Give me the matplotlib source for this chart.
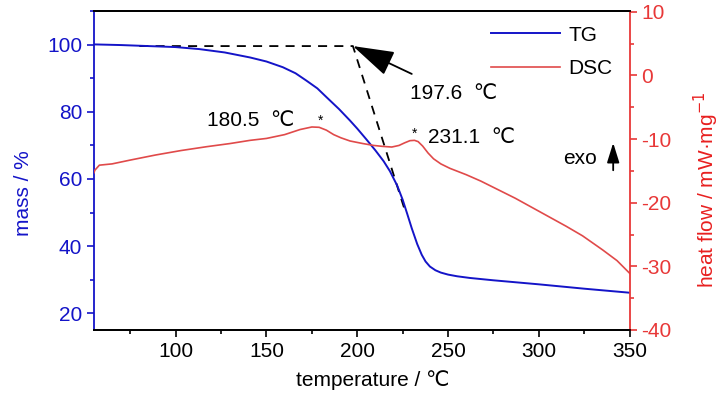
import numpy as np
import matplotlib
matplotlib.use('Agg')
import matplotlib.pyplot as plt
from matplotlib.ticker import MultipleLocator

plt.rcParams['font.family'] = ['Liberation Sans', 'DejaVu Sans']
plt.rcParams['font.size'] = 15
plt.rcParams['axes.unicode_minus'] = False

# TG curve (temperature / C, mass / %)
tg_t = [55, 70, 85, 100, 113, 127, 141, 150, 159, 166, 172, 178, 183, 190, 196, 200,
        205, 210, 214.5, 218, 222, 225, 227.5, 230, 233, 235.5, 237.6, 240, 243, 246,
        250, 255, 262, 275, 300, 325, 350]
tg_m = [100.1, 99.9, 99.6, 99.3, 98.7, 97.7, 96.2, 95.0, 93.3, 91.5, 89.3, 87.0, 84.4, 80.8,
        77.4, 75.0, 71.8, 68.5, 65.3, 62.3, 58.0, 53.8, 49.6, 45.3, 40.6, 37.4, 35.4, 33.9,
        32.8, 32.1, 31.5, 31.0, 30.5, 29.8, 28.6, 27.3, 26.1]

# DSC curve (temperature / C, heat flow / mW mg-1)
dsc_t = [55, 55.5, 58, 65, 75, 89, 103, 117, 130, 141, 150, 160, 168.5, 175, 179, 183,
         187, 191, 196, 203, 209, 214, 219, 223, 226, 229, 231.5, 233.5, 236, 239, 242,
         246, 251, 260, 268, 287, 301, 315, 324, 335, 343, 350]
dsc_h = [-15.3, -14.9, -14.1, -13.9, -13.3, -12.5, -11.8, -11.2, -10.7, -10.2, -9.9, -9.3,
         -8.5, -8.1, -8.15, -8.6, -9.3, -9.8, -10.3, -10.7, -11.0, -11.15, -11.25, -11.0,
         -10.6, -10.25, -10.2, -10.4, -11.1, -12.2, -13.1, -13.9, -14.6, -15.6, -16.6, -19.3,
         -21.5, -23.7, -25.2, -27.4, -29.1, -31.1]

# onset construction
onset_x = [80, 197.6, 226]
onset_y = [99.6, 99.6, 51]

blue = '#1414c8'
red = '#e04a4a'
red_ax = '#e83838'

fig = plt.figure(figsize=(7.28, 3.99), dpi=100)
ax = fig.add_axes([0.129, 0.173, 0.736, 0.799])
ax2 = ax.twinx()

ax.plot(onset_x, onset_y, 'k--', lw=1.3, dashes=(5, 4))
l1, = ax.plot(tg_t, tg_m, color=blue, lw=1.4)
l2, = ax2.plot(dsc_t, dsc_h, color=red, lw=1.2)

ax.set_xlim(55, 350)
ax.set_ylim(15, 110)
ax2.set_ylim(-40, 10.1)

ax.xaxis.set_major_locator(MultipleLocator(50))
ax.xaxis.set_minor_locator(MultipleLocator(25))
ax.yaxis.set_major_locator(MultipleLocator(20))
ax.yaxis.set_minor_locator(MultipleLocator(10))
ax2.yaxis.set_major_locator(MultipleLocator(10))
ax2.yaxis.set_minor_locator(MultipleLocator(5))

for a in (ax, ax2):
    for s in a.spines.values():
        s.set_linewidth(1.3)
ax.spines['left'].set_color(blue)
ax2.spines['left'].set_visible(False)
ax2.spines['right'].set_color(red_ax)
ax.spines['right'].set_visible(False)

ax.tick_params(axis='x', which='major', length=5, width=1.2, pad=4)
ax.tick_params(axis='x', which='minor', length=3, width=1.2)
ax.tick_params(axis='y', which='both', colors=blue, width=1.2)
ax.tick_params(axis='y', which='major', length=5)
ax.tick_params(axis='y', which='minor', length=3)
ax2.tick_params(axis='y', which='both', colors=red_ax, width=1.2)
ax2.tick_params(axis='y', which='major', length=5)
ax2.tick_params(axis='y', which='minor', length=3)

ax.set_xlabel('temperature / ℃')
ax.xaxis.set_label_coords(0.52, -0.125)
ax.set_ylabel('mass / %', color=blue)
ax.yaxis.set_label_coords(-0.114, 0.43)
ax2.set_ylabel('heat flow / mW·mg$^{-1}$', color='#e82020')
ax2.yaxis.set_label_coords(1.116, 0.44)

# onset arrow
ax.annotate('', xy=(197.6, 99.6), xytext=(230, 91.3),
            arrowprops=dict(arrowstyle='-|>,head_length=1.3,head_width=0.4',
                            mutation_scale=20, color='k', lw=1.3, shrinkA=0, shrinkB=0))
ax.text(229.3, 85.5, '197.6  ℃', ha='left', va='center')

ax2.text(141.4, -7.1, '180.5  ℃', ha='center', va='center')
ax2.text(179.6, -7.1, '*', ha='center', va='center', fontsize=10)
ax2.text(231.5, -9.2, '*', ha='center', va='center', fontsize=10)
ax2.text(238.7, -9.8, '231.1  ℃', ha='left', va='center')

ax2.text(322.6, -13.0, 'exo', ha='center', va='center')
ax2.annotate('', xy=(340.9, -10.6), xytext=(340.9, -14.9),
             arrowprops=dict(arrowstyle='-|>,head_length=0.8,head_width=0.25',
                             mutation_scale=15, color='k', lw=1.3, shrinkA=0, shrinkB=0))

ax.legend([l1, l2], ['TG', 'DSC'], loc='upper right', bbox_to_anchor=(0.995, 1.0),
          frameon=False, handlelength=3.3, handletextpad=0.4, labelspacing=0.7,
          borderaxespad=0.3)

fig.savefig('out.png', dpi=100)
